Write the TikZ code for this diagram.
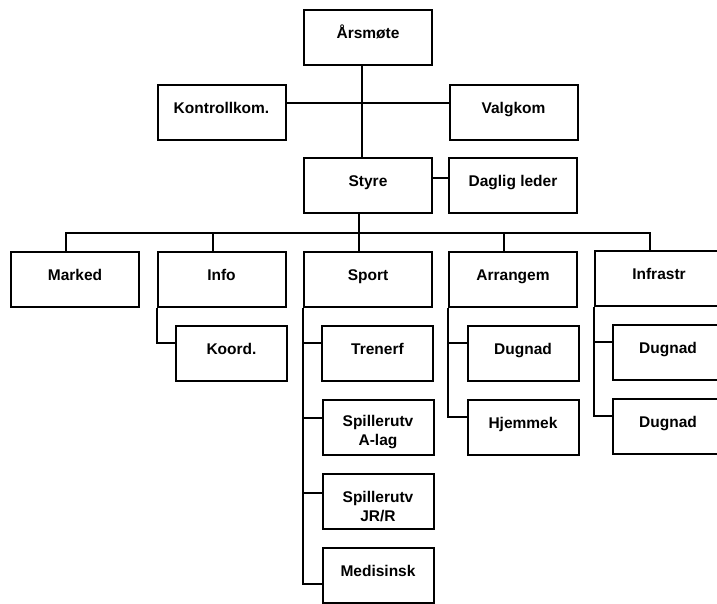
\documentclass[tikz,border=0pt]{standalone}
\usepackage{fontspec}
\setmainfont{Liberation Sans}

\begin{document}
\begin{tikzpicture}[x=1pt,y=1pt,line width=2pt,
  box/.style={draw,minimum width=128pt,minimum height=55pt,inner sep=0pt,
    font=\fontsize{15.5}{19}\selectfont\bfseries,text height=11pt,text depth=9pt},
  subbox/.style={box,minimum width=111pt},
  twoline/.style={subbox,align=center,text height=41pt,text depth=}]
\clip (0,0) rectangle (717,-603);
\node [box] (arsmote) at (368,-37) {Årsmøte};
\node [box] (kontroll) at (221.5,-112) {Kontrollkom.};
\node [box] (valgkom) at (513.5,-112) {Valgkom};
\node [box] (styre) at (368,-185.5) {Styre};
\node [box] (daglig) at (513,-185.5) {Daglig leder};
\node [box] (marked) at (75,-279) {Marked};
\node [box] (info) at (221.5,-279) {Info};
\node [box] (sport) at (368,-279) {Sport};
\node [box] (arrangem) at (513,-279) {Arrangem};
\node [box] (infrastr) at (659,-278) {Infrastr};
\node [subbox] (koord) at (231.5,-353) {Koord.};
\node [subbox] (trenerf) at (377.5,-353) {Trenerf};
\node [subbox] (dugnadA) at (523,-353) {Dugnad};
\node [subbox] (dugnadB) at (668,-352) {Dugnad};
\node [twoline] (spillerA) at (378,-427) {Spillerutv\\A-lag};
\node [subbox] (hjemmek) at (523,-427) {Hjemmek};
\node [subbox] (dugnadC) at (668,-426) {Dugnad};
\node [twoline] (spillerJ) at (378,-501) {Spillerutv\\JR/R};
\node [subbox] (medisinsk) at (378,-575) {Medisinsk};
\draw ([xshift=-6]arsmote.south) -- ([xshift=-6]styre.north);
\draw ([yshift=9]kontroll.east) -- ([yshift=9]valgkom.west);
\draw ([yshift=8]styre.east) -- ([yshift=8]daglig.west);
\coordinate (bus) at (0,-233);
\coordinate (styre-bot) at ([xshift=-9]styre.south);
\foreach \n in {marked,info,sport,arrangem,infrastr}
  \coordinate (\n-top) at ([xshift=-9]\n.north);
\draw (styre-bot) -- (styre-bot |- bus);
\draw (marked-top) |- (infrastr-top |- bus) -- (infrastr-top);
\foreach \n in {info,sport,arrangem}
  \draw (\n-top) -- (\n-top |- bus);
\draw (info.south west) |- ([yshift=10]koord.west);
\foreach \n/\s in {trenerf/10,spillerA/9,spillerJ/8,medisinsk/-9}
  \draw (sport.south west) |- ([yshift=\s]\n.west);
\foreach \n in {dugnadA,hjemmek}
  \draw (arrangem.south west) |- ([yshift=10]\n.west);
\foreach \n in {dugnadB,dugnadC}
  \draw (infrastr.south west) |- ([yshift=10]\n.west);
\end{tikzpicture}
\end{document}
